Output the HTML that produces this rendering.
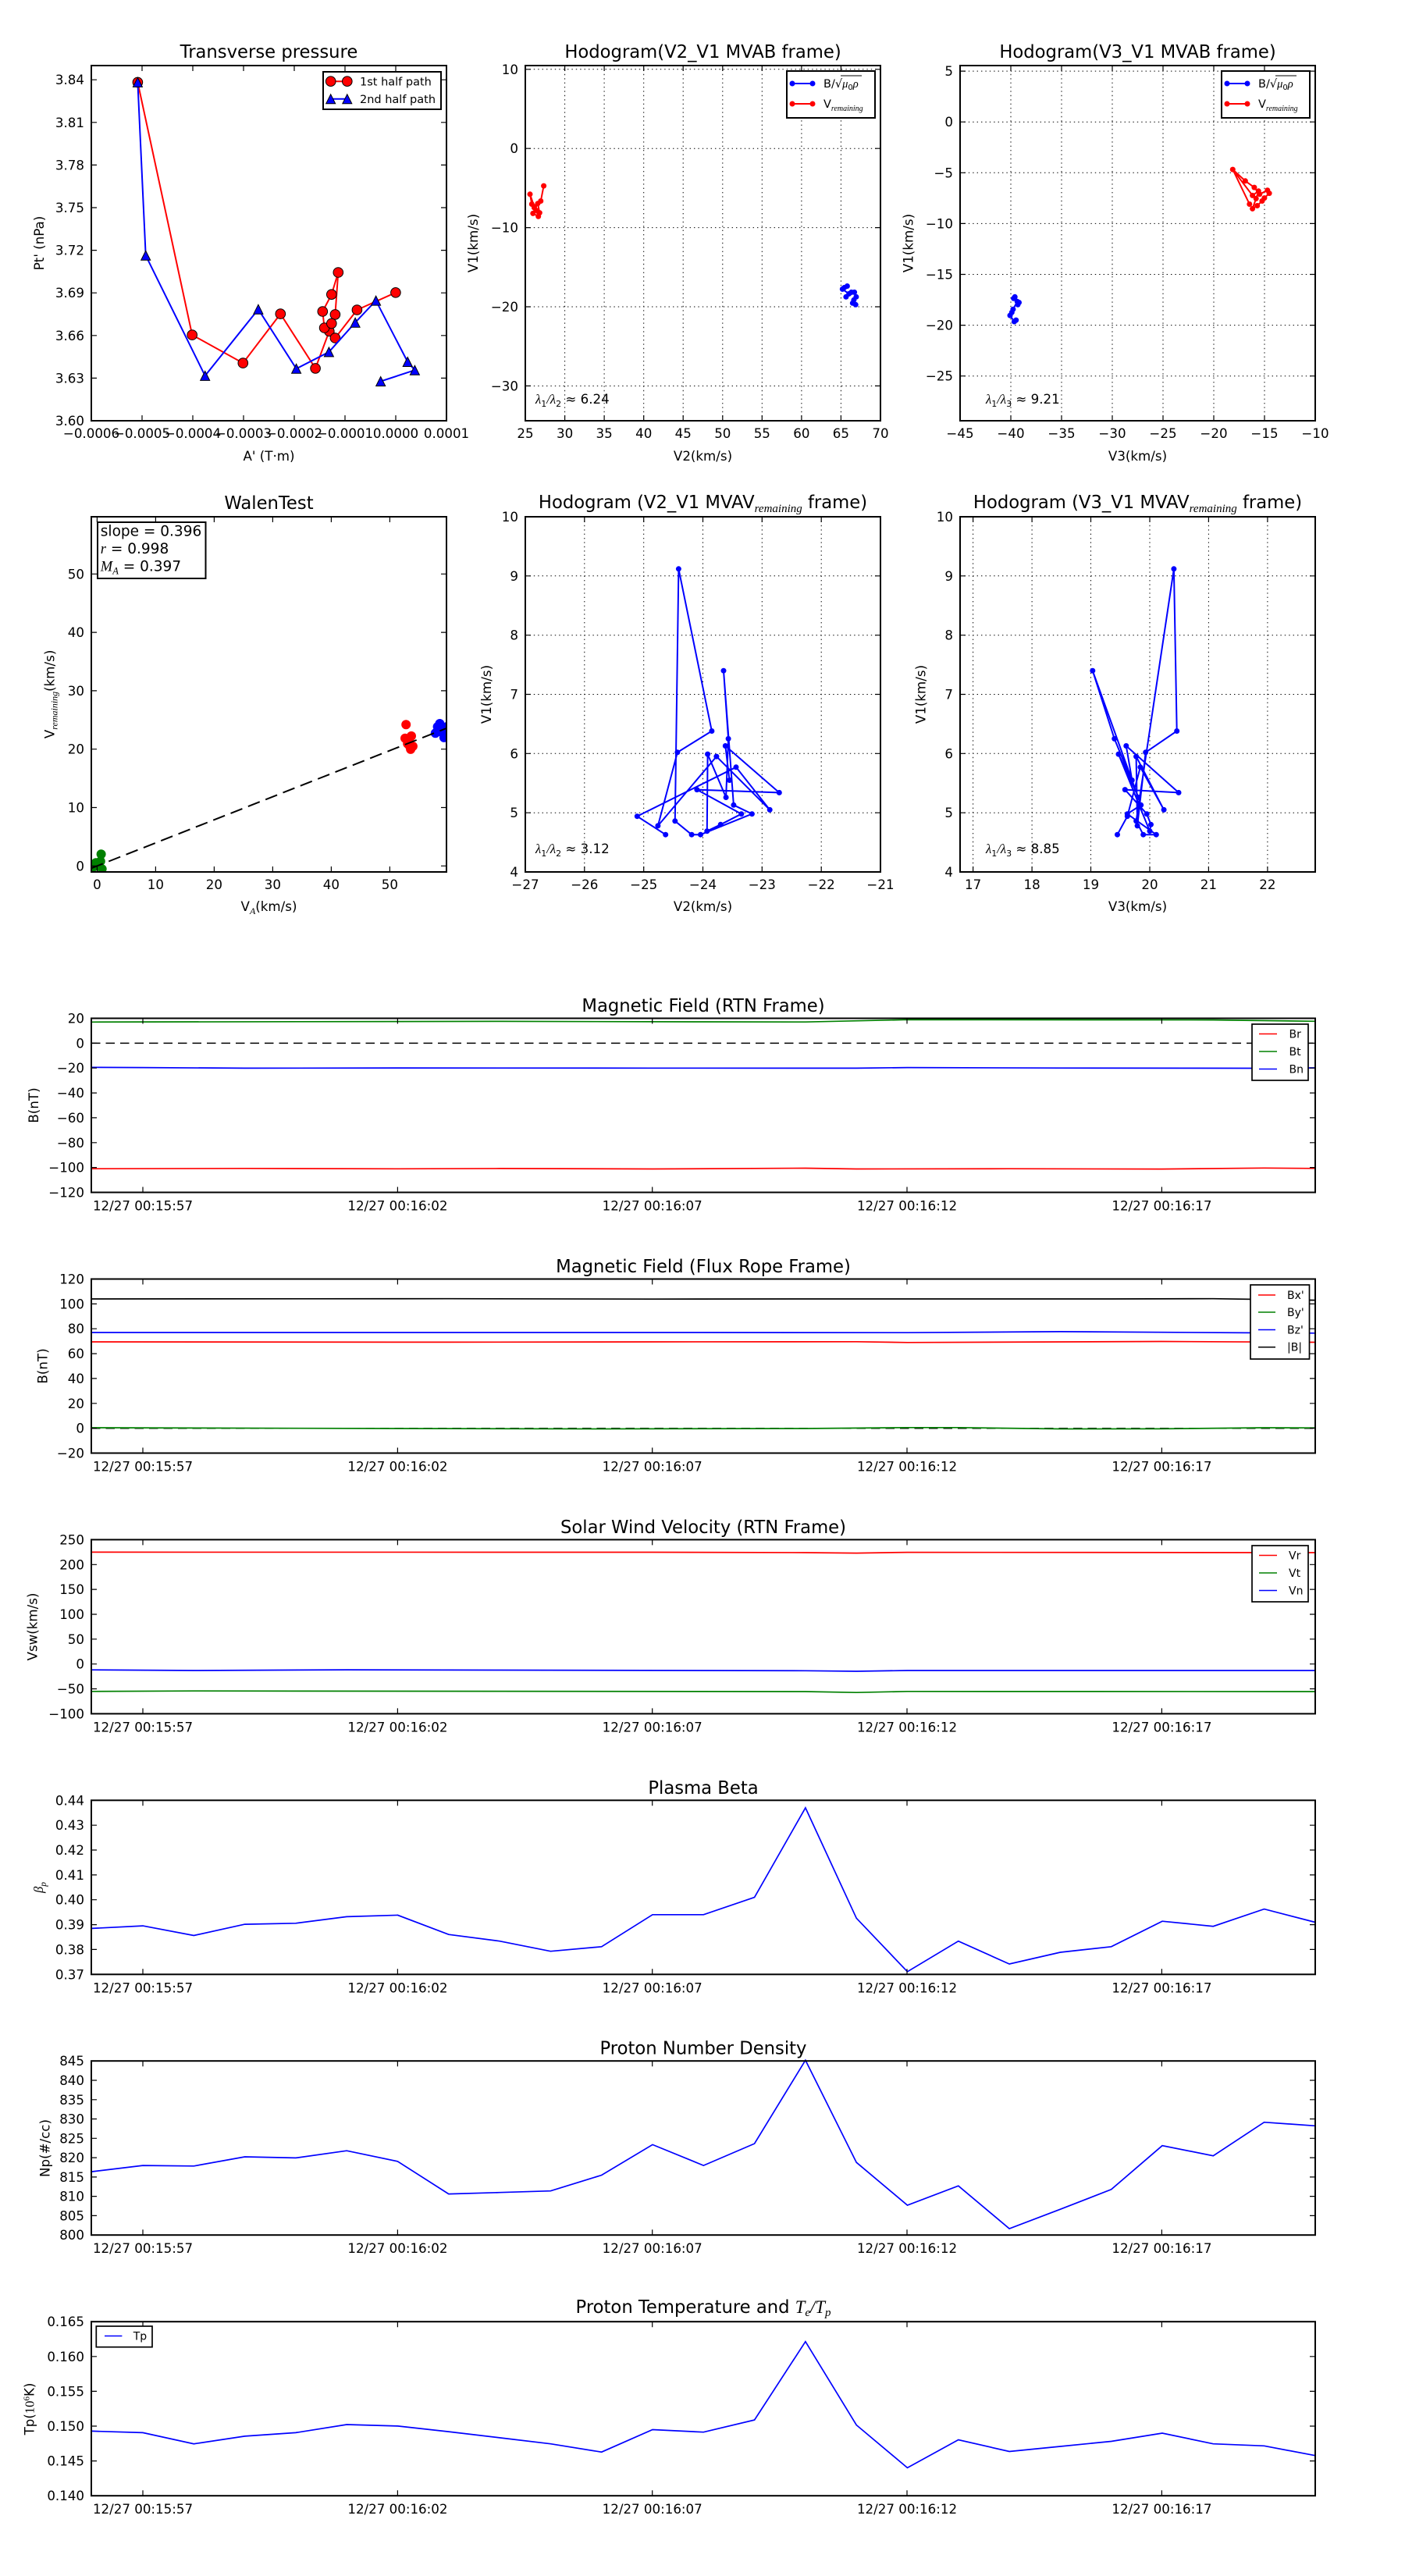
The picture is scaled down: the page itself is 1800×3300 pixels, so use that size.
<!DOCTYPE html>
<html><head><meta charset="utf-8"><style>
html,body{margin:0;padding:0;background:#fff}
svg{display:block}
text{font-family:"DejaVu Sans","Liberation Sans",sans-serif;fill:#000}
.tk{font-size:16.67px}
.ti{font-size:22.7px}
.lg{font-size:14px}
.lg2{font-size:14.5px}
.m{font-family:"Liberation Serif","DejaVu Serif",serif;font-style:italic}
</style></head><body>
<svg width="1800" height="3300" viewBox="0 0 1800 3300" xmlns="http://www.w3.org/2000/svg">
<rect width="1800" height="3300" fill="#fff"/>
<defs>
<clipPath id="cw"><rect x="117" y="662" width="455" height="455"/></clipPath>
</defs>

<!-- ===== Plot 1: Transverse pressure ===== -->
<text x="344.5" y="74" class="ti" text-anchor="middle">Transverse pressure</text>
<polyline fill="none" stroke="#f00" stroke-width="2" points="176.4,105.4 246.2,429.1 311.3,465.1 359.3,402.1 404.1,471.9 421.8,424.3 415.6,420 413.3,399 424.8,377.2 433.3,349 429.4,402.9 424.8,414.4 429.4,433 457.4,397 506.9,374.8"/>
<g fill="#f00" stroke="#000" stroke-width="1">
<circle cx="176.4" cy="105.4" r="6.3"/><circle cx="246.2" cy="429.1" r="6.3"/><circle cx="311.3" cy="465.1" r="6.3"/><circle cx="359.3" cy="402.1" r="6.3"/><circle cx="404.1" cy="471.9" r="6.3"/><circle cx="421.8" cy="424.3" r="6.3"/><circle cx="415.6" cy="420" r="6.3"/><circle cx="413.3" cy="399" r="6.3"/><circle cx="424.8" cy="377.2" r="6.3"/><circle cx="433.3" cy="349" r="6.3"/><circle cx="429.4" cy="402.9" r="6.3"/><circle cx="424.8" cy="414.4" r="6.3"/><circle cx="429.4" cy="433" r="6.3"/><circle cx="457.4" cy="397" r="6.3"/><circle cx="506.9" cy="374.8" r="6.3"/>
</g>
<polyline fill="none" stroke="#00f" stroke-width="2" points="176.4,105.4 186.7,327.3 262.7,481.4 330.9,396.2 379.6,472.3 421.4,450.9 455.1,413.2 481.6,385.1 522.2,463.5 531.4,474.2 487.7,488.5"/>
<g fill="#00f" stroke="#000" stroke-width="1">
<path d="M176.4 99.4l6 12h-12z"/><path d="M186.7 321.3l6 12h-12z"/><path d="M262.7 475.4l6 12h-12z"/><path d="M330.9 390.2l6 12h-12z"/><path d="M379.6 466.3l6 12h-12z"/><path d="M421.4 444.9l6 12h-12z"/><path d="M455.1 407.2l6 12h-12z"/><path d="M481.6 379.1l6 12h-12z"/><path d="M522.2 457.5l6 12h-12z"/><path d="M531.4 468.2l6 12h-12z"/><path d="M487.7 482.5l6 12h-12z"/>
</g>
<rect x="117" y="84" width="455" height="455" fill="none" stroke="#000" stroke-width="2"/>
<path fill="none" stroke="#000" stroke-width="1.2" d="M117 102.2h7M117 156.8h7M117 211.4h7M117 266h7M117 320.6h7M117 375.2h7M117 429.8h7M117 484.4h7M572 102.2h-7M572 156.8h-7M572 211.4h-7M572 266h-7M572 320.6h-7M572 375.2h-7M572 429.8h-7M572 484.4h-7M182 539v-7M247 539v-7M312 539v-7M377 539v-7M442 539v-7M507 539v-7M182 84v7M247 84v7M312 84v7M377 84v7M442 84v7M507 84v7"/>
<g class="tk" text-anchor="end">
<text x="108" y="108.2">3.84</text><text x="108" y="162.8">3.81</text><text x="108" y="217.4">3.78</text><text x="108" y="272">3.75</text><text x="108" y="326.6">3.72</text><text x="108" y="381.2">3.69</text><text x="108" y="435.8">3.66</text><text x="108" y="490.4">3.63</text><text x="108" y="545">3.60</text>
</g>
<g class="tk" text-anchor="middle">
<text x="117" y="561">−0.0006</text><text x="182" y="561">−0.0005</text><text x="247" y="561">−0.0004</text><text x="312" y="561">−0.0003</text><text x="377" y="561">−0.0002</text><text x="442" y="561">−0.0001</text><text x="507" y="561">0.0000</text><text x="572" y="561">0.0001</text>
<text x="344.5" y="590">A' (T·m)</text>
<text transform="translate(56,311.5) rotate(-90)">Pt' (nPa)</text>
</g>
<rect x="414" y="92" width="151" height="48" fill="#fff" stroke="#000" stroke-width="2"/>
<line x1="423.7" y1="104.2" x2="444.8" y2="104.2" stroke="#f00" stroke-width="2"/>
<circle cx="423.7" cy="104.2" r="6.3" fill="#f00" stroke="#000"/><circle cx="444.8" cy="104.2" r="6.3" fill="#f00" stroke="#000"/>
<line x1="423.7" y1="126.8" x2="444.8" y2="126.8" stroke="#00f" stroke-width="2"/>
<path d="M423.7 120.8l6 12h-12zM444.8 120.8l6 12h-12z" fill="#00f" stroke="#000"/>
<text x="461" y="109.5" class="lg2">1st half path</text>
<text x="461" y="132" class="lg2">2nd half path</text>

<!-- ===== Plot 2: Hodogram V2_V1 MVAB ===== -->
<text x="900.5" y="74" class="ti" text-anchor="middle">Hodogram(V2_V1 MVAB frame)</text>
<path fill="none" stroke="#000" stroke-width="1" stroke-dasharray="1.4,4" d="M723.6 84V539M774.1 84V539M824.7 84V539M875.2 84V539M925.8 84V539M976.3 84V539M1026.9 84V539M1077.4 84V539M673 88.8H1128M673 190.2H1128M673 291.6H1128M673 393H1128M673 494.4H1128"/>
<polyline fill="none" stroke="#00f" stroke-width="2" points="1081.6,368.5 1085.4,366.5 1079.3,370.4 1087.7,376.4 1083.9,380.3 1090.8,374.4 1094.6,374.4 1096.9,380.3 1093.9,384.3 1092.3,388.3 1096.2,390.3"/>
<g fill="#00f">
<circle cx="1081.6" cy="368.5" r="3.5"/><circle cx="1085.4" cy="366.5" r="3.5"/><circle cx="1079.3" cy="370.4" r="3.5"/><circle cx="1087.7" cy="376.4" r="3.5"/><circle cx="1083.9" cy="380.3" r="3.5"/><circle cx="1090.8" cy="374.4" r="3.5"/><circle cx="1094.6" cy="374.4" r="3.5"/><circle cx="1096.9" cy="380.3" r="3.5"/><circle cx="1093.9" cy="384.3" r="3.5"/><circle cx="1092.3" cy="388.3" r="3.5"/><circle cx="1096.2" cy="390.3" r="3.5"/>
</g>
<polyline fill="none" stroke="#f00" stroke-width="2" points="696.6,238.1 692.8,257.5 684.4,264.7 679,248.8 681.3,261.5 686.7,269.4 689.7,277.3 682.8,273.4 689,260.7 691.3,272.6 684.4,266"/>
<g fill="#f00">
<circle cx="696.6" cy="238.1" r="3.5"/><circle cx="692.8" cy="257.5" r="3.5"/><circle cx="684.4" cy="264.7" r="3.5"/><circle cx="679" cy="248.8" r="3.5"/><circle cx="681.3" cy="261.5" r="3.5"/><circle cx="686.7" cy="269.4" r="3.5"/><circle cx="689.7" cy="277.3" r="3.5"/><circle cx="682.8" cy="273.4" r="3.5"/><circle cx="689" cy="260.7" r="3.5"/><circle cx="691.3" cy="272.6" r="3.5"/><circle cx="684.4" cy="266" r="3.5"/>
</g>
<rect x="673" y="84" width="455" height="455" fill="none" stroke="#000" stroke-width="2"/>
<path fill="none" stroke="#000" stroke-width="1.2" d="M673 88.8h7M673 190.2h7M673 291.6h7M673 393h7M673 494.4h7M1128 88.8h-7M1128 190.2h-7M1128 291.6h-7M1128 393h-7M1128 494.4h-7M723.6 539v-7M774.1 539v-7M824.7 539v-7M875.2 539v-7M925.8 539v-7M976.3 539v-7M1026.9 539v-7M1077.4 539v-7M723.6 84v7M774.1 84v7M824.7 84v7M875.2 84v7M925.8 84v7M976.3 84v7M1026.9 84v7M1077.4 84v7"/>
<g class="tk" text-anchor="end">
<text x="664" y="94.8">10</text><text x="664" y="196.2">0</text><text x="664" y="297.6">−10</text><text x="664" y="399">−20</text><text x="664" y="500.4">−30</text>
</g>
<g class="tk" text-anchor="middle">
<text x="673" y="561">25</text><text x="723.6" y="561">30</text><text x="774.1" y="561">35</text><text x="824.7" y="561">40</text><text x="875.2" y="561">45</text><text x="925.8" y="561">50</text><text x="976.3" y="561">55</text><text x="1026.9" y="561">60</text><text x="1077.4" y="561">65</text><text x="1128" y="561">70</text>
<text x="900.5" y="590">V2(km/s)</text>
<text transform="translate(612,311.5) rotate(-90)">V1(km/s)</text>
</g>
<text x="686" y="517" class="tk"><tspan class="m">λ</tspan><tspan font-size="11" dy="4">1</tspan><tspan class="m" dy="-4">/λ</tspan><tspan font-size="11" dy="4">2</tspan><tspan dy="-4"> ≈ 6.24</tspan></text>
<rect x="1008" y="91" width="113" height="60" fill="#fff" stroke="#000" stroke-width="2"/>
<line x1="1015" y1="107" x2="1041" y2="107" stroke="#00f" stroke-width="2"/>
<circle cx="1015" cy="107" r="3.5" fill="#00f"/><circle cx="1041" cy="107" r="3.5" fill="#00f"/>
<line x1="1015" y1="133" x2="1041" y2="133" stroke="#f00" stroke-width="2"/>
<circle cx="1015" cy="133" r="3.5" fill="#f00"/><circle cx="1041" cy="133" r="3.5" fill="#f00"/>
<text x="1055" y="112" class="lg2">B/√<tspan class="m">μ</tspan><tspan font-size="10" dy="3">0</tspan><tspan class="m" dy="-3">ρ</tspan></text>
<line x1="1077" y1="97" x2="1104" y2="97" stroke="#000" stroke-width="1"/>
<text x="1055" y="138" class="lg2">V<tspan class="m" font-size="10" dy="4">remaining</tspan></text>

<!-- ===== Plot 3: Hodogram V3_V1 MVAB ===== -->
<text x="1457.5" y="74" class="ti" text-anchor="middle">Hodogram(V3_V1 MVAB frame)</text>
<path fill="none" stroke="#000" stroke-width="1" stroke-dasharray="1.4,4" d="M1295 84V539M1360 84V539M1425 84V539M1490 84V539M1555 84V539M1620 84V539M1230 91.1H1685M1230 156.2H1685M1230 221.3H1685M1230 286.4H1685M1230 351.5H1685M1230 416.6H1685M1230 481.7H1685"/>
<polyline fill="none" stroke="#00f" stroke-width="2" points="1298.6,382.3 1300.2,380.3 1305.5,387.5 1304,390.3 1303.2,386.3 1297.9,396.2 1296.3,400.2 1294,404.1 1299.4,412 1301.7,410.1"/>
<g fill="#00f">
<circle cx="1298.6" cy="382.3" r="3.5"/><circle cx="1300.2" cy="380.3" r="3.5"/><circle cx="1305.5" cy="387.5" r="3.5"/><circle cx="1304" cy="390.3" r="3.5"/><circle cx="1303.2" cy="386.3" r="3.5"/><circle cx="1297.9" cy="396.2" r="3.5"/><circle cx="1296.3" cy="400.2" r="3.5"/><circle cx="1294" cy="404.1" r="3.5"/><circle cx="1299.4" cy="412" r="3.5"/><circle cx="1301.7" cy="410.1" r="3.5"/>
</g>
<polyline fill="none" stroke="#f00" stroke-width="2" points="1600.8,261.5 1579.3,217.1 1595.4,231.8 1606.9,240.1 1613.8,248.8 1623.8,243.7 1626.1,247.6 1619.9,253.6 1616.9,257.5 1610.7,263.5 1604.6,267.4 1609.2,254.4 1612.3,244.8 1604.6,250.4 1579.3,217.1"/>
<g fill="#f00">
<circle cx="1600.8" cy="261.5" r="3.5"/><circle cx="1579.3" cy="217.1" r="3.5"/><circle cx="1595.4" cy="231.8" r="3.5"/><circle cx="1606.9" cy="240.1" r="3.5"/><circle cx="1613.8" cy="248.8" r="3.5"/><circle cx="1623.8" cy="243.7" r="3.5"/><circle cx="1626.1" cy="247.6" r="3.5"/><circle cx="1619.9" cy="253.6" r="3.5"/><circle cx="1616.9" cy="257.5" r="3.5"/><circle cx="1610.7" cy="263.5" r="3.5"/><circle cx="1604.6" cy="267.4" r="3.5"/><circle cx="1609.2" cy="254.4" r="3.5"/><circle cx="1612.3" cy="244.8" r="3.5"/><circle cx="1604.6" cy="250.4" r="3.5"/>
</g>
<rect x="1230" y="84" width="455" height="455" fill="none" stroke="#000" stroke-width="2"/>
<path fill="none" stroke="#000" stroke-width="1.2" d="M1230 91.1h7M1230 156.2h7M1230 221.3h7M1230 286.4h7M1230 351.5h7M1230 416.6h7M1230 481.7h7M1685 91.1h-7M1685 156.2h-7M1685 221.3h-7M1685 286.4h-7M1685 351.5h-7M1685 416.6h-7M1685 481.7h-7M1295 539v-7M1360 539v-7M1425 539v-7M1490 539v-7M1555 539v-7M1620 539v-7M1295 84v7M1360 84v7M1425 84v7M1490 84v7M1555 84v7M1620 84v7"/>
<g class="tk" text-anchor="end">
<text x="1221" y="97.1">5</text><text x="1221" y="162.2">0</text><text x="1221" y="227.3">−5</text><text x="1221" y="292.4">−10</text><text x="1221" y="357.5">−15</text><text x="1221" y="422.6">−20</text><text x="1221" y="487.7">−25</text>
</g>
<g class="tk" text-anchor="middle">
<text x="1230" y="561">−45</text><text x="1295" y="561">−40</text><text x="1360" y="561">−35</text><text x="1425" y="561">−30</text><text x="1490" y="561">−25</text><text x="1555" y="561">−20</text><text x="1620" y="561">−15</text><text x="1685" y="561">−10</text>
<text x="1457.5" y="590">V3(km/s)</text>
<text transform="translate(1169.6,311.5) rotate(-90)">V1(km/s)</text>
</g>
<text x="1263" y="517" class="tk"><tspan class="m">λ</tspan><tspan font-size="11" dy="4">1</tspan><tspan class="m" dy="-4">/λ</tspan><tspan font-size="11" dy="4">3</tspan><tspan dy="-4"> ≈ 9.21</tspan></text>
<rect x="1565" y="91" width="113" height="60" fill="#fff" stroke="#000" stroke-width="2"/>
<line x1="1572" y1="107" x2="1598" y2="107" stroke="#00f" stroke-width="2"/>
<circle cx="1572" cy="107" r="3.5" fill="#00f"/><circle cx="1598" cy="107" r="3.5" fill="#00f"/>
<line x1="1572" y1="133" x2="1598" y2="133" stroke="#f00" stroke-width="2"/>
<circle cx="1572" cy="133" r="3.5" fill="#f00"/><circle cx="1598" cy="133" r="3.5" fill="#f00"/>
<text x="1612" y="112" class="lg2">B/√<tspan class="m">μ</tspan><tspan font-size="10" dy="3">0</tspan><tspan class="m" dy="-3">ρ</tspan></text>
<line x1="1634" y1="97" x2="1661" y2="97" stroke="#000" stroke-width="1"/>
<text x="1612" y="138" class="lg2">V<tspan class="m" font-size="10" dy="4">remaining</tspan></text>

<!-- ===== Plot 4: WalenTest ===== -->
<text x="344.5" y="652" class="ti" text-anchor="middle">WalenTest</text>
<g clip-path="url(#cw)">
<g fill="#008000">
<circle cx="129.6" cy="1094.2" r="6"/><circle cx="122.8" cy="1105.3" r="6"/><circle cx="128.8" cy="1103.4" r="6"/><circle cx="118.9" cy="1111.3" r="6"/><circle cx="130.7" cy="1113.3" r="6"/><circle cx="124.8" cy="1109.3" r="6"/><circle cx="120.8" cy="1108.1" r="6"/>
</g>
<g fill="#f00">
<circle cx="520.2" cy="928.2" r="6"/><circle cx="519" cy="945.7" r="6"/><circle cx="527" cy="942.9" r="6"/><circle cx="523.8" cy="948.8" r="6"/><circle cx="525" cy="956" r="6"/><circle cx="528.9" cy="956" r="6"/><circle cx="522.2" cy="952.8" r="6"/><circle cx="526.1" cy="959.9" r="6"/>
</g>
<g fill="#00f">
<circle cx="557.8" cy="939.3" r="6"/><circle cx="560.6" cy="931" r="6"/><circle cx="563.4" cy="927" r="6"/><circle cx="566.6" cy="933" r="6"/><circle cx="569.7" cy="937" r="6"/><circle cx="562.6" cy="937" r="6"/><circle cx="568.9" cy="944.9" r="6"/><circle cx="572.5" cy="931" r="6"/>
</g>
<line x1="116.9" y1="1112.3" x2="572" y2="932.9" stroke="#000" stroke-width="2" stroke-dasharray="16,8"/>
</g>
<rect x="117" y="662" width="455" height="455" fill="none" stroke="#000" stroke-width="2"/>
<path fill="none" stroke="#000" stroke-width="1.2" d="M117 1109.3h7M117 1034.5h7M117 959.7h7M117 884.9h7M117 810.1h7M117 735.3h7M572 1109.3h-7M572 1034.5h-7M572 959.7h-7M572 884.9h-7M572 810.1h-7M572 735.3h-7M124.4 1117v-7M199.4 1117v-7M274.4 1117v-7M349.4 1117v-7M424.4 1117v-7M499.4 1117v-7M124.4 662v7M199.4 662v7M274.4 662v7M349.4 662v7M424.4 662v7M499.4 662v7"/>
<g class="tk" text-anchor="end">
<text x="108" y="1115.3">0</text><text x="108" y="1040.5">10</text><text x="108" y="965.7">20</text><text x="108" y="890.9">30</text><text x="108" y="816.1">40</text><text x="108" y="741.3">50</text>
</g>
<g class="tk" text-anchor="middle">
<text x="124.4" y="1139">0</text><text x="199.4" y="1139">10</text><text x="274.4" y="1139">20</text><text x="349.4" y="1139">30</text><text x="424.4" y="1139">40</text><text x="499.4" y="1139">50</text>
<text x="344.5" y="1167">V<tspan class="m" font-size="12" dy="4">A</tspan><tspan dy="-4">(km/s)</tspan></text>
<text transform="translate(69.4,889.4) rotate(-90)">V<tspan class="m" font-size="12" dy="4">remaining</tspan><tspan dy="-4">(km/s)</tspan></text>
</g>
<rect x="125" y="669" width="138.5" height="72" fill="#fff" stroke="#000" stroke-width="2"/>
<text x="128.8" y="686.6" font-size="18.5">slope = 0.396</text>
<text x="128.8" y="709" font-size="18.5"><tspan class="m">r</tspan> = 0.998</text>
<text x="128.8" y="731.7" font-size="18.5"><tspan class="m">M</tspan><tspan class="m" font-size="12.5" dy="4">A</tspan><tspan dy="-4"> = 0.397</tspan></text>

<!-- ===== Plot 5: Hodogram V2_V1 MVAV ===== -->
<text x="900.5" y="651" class="ti" text-anchor="middle">Hodogram (V2_V1 MVAV<tspan class="m" font-size="15" dy="5">remaining</tspan><tspan dy="-5"> frame)</tspan></text>
<path fill="none" stroke="#000" stroke-width="1" stroke-dasharray="1.4,4" d="M748.8 662V1117M824.7 662V1117M900.5 662V1117M976.3 662V1117M1052.2 662V1117M673 1041.2H1128M673 965.3H1128M673 889.5H1128M673 813.7H1128M673 737.8H1128"/>
<polyline fill="none" stroke="#00f" stroke-width="2" points="852.7,1069.2 816.3,1045.7 943,982.8 986.2,1037.4 917.9,969.1 842.9,1057.9 867.9,963.8 911.9,936.5 869.4,728.8 864.8,1051.8 886.1,1069.2 897.5,1069.2 963.4,1042.7 939.9,1031.3 927,859.2 933.1,946.4 930.1,1021.5 906.6,966.1 905.8,1064.7 923.2,1056.3 949.8,1042.7 892.9,1011.6 998.3,1015.4 929.3,955.5 934.6,999.5"/>
<g fill="#00f">
<circle cx="852.7" cy="1069.2" r="3.5"/><circle cx="816.3" cy="1045.7" r="3.5"/><circle cx="943" cy="982.8" r="3.5"/><circle cx="986.2" cy="1037.4" r="3.5"/><circle cx="917.9" cy="969.1" r="3.5"/><circle cx="842.9" cy="1057.9" r="3.5"/><circle cx="867.9" cy="963.8" r="3.5"/><circle cx="911.9" cy="936.5" r="3.5"/><circle cx="869.4" cy="728.8" r="3.5"/><circle cx="864.8" cy="1051.8" r="3.5"/><circle cx="886.1" cy="1069.2" r="3.5"/><circle cx="897.5" cy="1069.2" r="3.5"/><circle cx="963.4" cy="1042.7" r="3.5"/><circle cx="939.9" cy="1031.3" r="3.5"/><circle cx="927" cy="859.2" r="3.5"/><circle cx="933.1" cy="946.4" r="3.5"/><circle cx="930.1" cy="1021.5" r="3.5"/><circle cx="906.6" cy="966.1" r="3.5"/><circle cx="905.8" cy="1064.7" r="3.5"/><circle cx="923.2" cy="1056.3" r="3.5"/><circle cx="949.8" cy="1042.7" r="3.5"/><circle cx="892.9" cy="1011.6" r="3.5"/><circle cx="998.3" cy="1015.4" r="3.5"/><circle cx="929.3" cy="955.5" r="3.5"/><circle cx="934.6" cy="999.5" r="3.5"/>
</g>
<rect x="673" y="662" width="455" height="455" fill="none" stroke="#000" stroke-width="2"/>
<path fill="none" stroke="#000" stroke-width="1.2" d="M673 1041.2h7M673 965.3h7M673 889.5h7M673 813.7h7M673 737.8h7M1128 1041.2h-7M1128 965.3h-7M1128 889.5h-7M1128 813.7h-7M1128 737.8h-7M748.8 1117v-7M824.7 1117v-7M900.5 1117v-7M976.3 1117v-7M1052.2 1117v-7M748.8 662v7M824.7 662v7M900.5 662v7M976.3 662v7M1052.2 662v7"/>
<g class="tk" text-anchor="end">
<text x="664" y="1123">4</text><text x="664" y="1047.2">5</text><text x="664" y="971.3">6</text><text x="664" y="895.5">7</text><text x="664" y="819.7">8</text><text x="664" y="743.8">9</text><text x="664" y="668">10</text>
</g>
<g class="tk" text-anchor="middle">
<text x="673" y="1139">−27</text><text x="748.8" y="1139">−26</text><text x="824.7" y="1139">−25</text><text x="900.5" y="1139">−24</text><text x="976.3" y="1139">−23</text><text x="1052.2" y="1139">−22</text><text x="1128" y="1139">−21</text>
<text x="900.5" y="1167">V2(km/s)</text>
<text transform="translate(629,889.5) rotate(-90)">V1(km/s)</text>
</g>
<text x="686" y="1093" class="tk"><tspan class="m">λ</tspan><tspan font-size="11" dy="4">1</tspan><tspan class="m" dy="-4">/λ</tspan><tspan font-size="11" dy="4">2</tspan><tspan dy="-4"> ≈ 3.12</tspan></text>

<!-- ===== Plot 6: Hodogram V3_V1 MVAV ===== -->
<text x="1457.5" y="651" class="ti" text-anchor="middle">Hodogram (V3_V1 MVAV<tspan class="m" font-size="15" dy="5">remaining</tspan><tspan dy="-5"> frame)</tspan></text>
<path fill="none" stroke="#000" stroke-width="1" stroke-dasharray="1.4,4" d="M1246.6 662V1117M1322.1 662V1117M1397.5 662V1117M1473 662V1117M1548.4 662V1117M1623.9 662V1117M1230 1041.2H1685M1230 965.3H1685M1230 889.5H1685M1230 813.7H1685M1230 737.8H1685"/>
<polyline fill="none" stroke="#00f" stroke-width="2" points="1431.5,1069.2 1444.3,1045.7 1460.9,982.8 1491.1,1037.4 1455.6,969.1 1457.1,1057.9 1467.7,963.8 1507.7,936.5 1503.9,728.8 1455.6,1051.8 1464.7,1069.2 1481.3,1069.2 1444.3,1042.7 1461.7,1031.3 1399.8,859.2 1427.7,946.4 1458.6,1021.5 1433,966.1 1473,1064.7 1474.5,1056.3 1469.2,1042.7 1441.3,1011.6 1510,1015.4 1442.8,955.5 1450.3,999.5"/>
<g fill="#00f">
<circle cx="1431.5" cy="1069.2" r="3.5"/><circle cx="1444.3" cy="1045.7" r="3.5"/><circle cx="1460.9" cy="982.8" r="3.5"/><circle cx="1491.1" cy="1037.4" r="3.5"/><circle cx="1455.6" cy="969.1" r="3.5"/><circle cx="1457.1" cy="1057.9" r="3.5"/><circle cx="1467.7" cy="963.8" r="3.5"/><circle cx="1507.7" cy="936.5" r="3.5"/><circle cx="1503.9" cy="728.8" r="3.5"/><circle cx="1455.6" cy="1051.8" r="3.5"/><circle cx="1464.7" cy="1069.2" r="3.5"/><circle cx="1481.3" cy="1069.2" r="3.5"/><circle cx="1444.3" cy="1042.7" r="3.5"/><circle cx="1461.7" cy="1031.3" r="3.5"/><circle cx="1399.8" cy="859.2" r="3.5"/><circle cx="1427.7" cy="946.4" r="3.5"/><circle cx="1458.6" cy="1021.5" r="3.5"/><circle cx="1433" cy="966.1" r="3.5"/><circle cx="1473" cy="1064.7" r="3.5"/><circle cx="1474.5" cy="1056.3" r="3.5"/><circle cx="1469.2" cy="1042.7" r="3.5"/><circle cx="1441.3" cy="1011.6" r="3.5"/><circle cx="1510" cy="1015.4" r="3.5"/><circle cx="1442.8" cy="955.5" r="3.5"/><circle cx="1450.3" cy="999.5" r="3.5"/>
</g>
<rect x="1230" y="662" width="455" height="455" fill="none" stroke="#000" stroke-width="2"/>
<path fill="none" stroke="#000" stroke-width="1.2" d="M1230 1041.2h7M1230 965.3h7M1230 889.5h7M1230 813.7h7M1230 737.8h7M1685 1041.2h-7M1685 965.3h-7M1685 889.5h-7M1685 813.7h-7M1685 737.8h-7M1246.6 1117v-7M1322.1 1117v-7M1397.5 1117v-7M1473 1117v-7M1548.4 1117v-7M1623.9 1117v-7M1246.6 662v7M1322.1 662v7M1397.5 662v7M1473 662v7M1548.4 662v7M1623.9 662v7"/>
<g class="tk" text-anchor="end">
<text x="1221" y="1123">4</text><text x="1221" y="1047.2">5</text><text x="1221" y="971.3">6</text><text x="1221" y="895.5">7</text><text x="1221" y="819.7">8</text><text x="1221" y="743.8">9</text><text x="1221" y="668">10</text>
</g>
<g class="tk" text-anchor="middle">
<text x="1246.6" y="1139">17</text><text x="1322.1" y="1139">18</text><text x="1397.5" y="1139">19</text><text x="1473" y="1139">20</text><text x="1548.4" y="1139">21</text><text x="1623.9" y="1139">22</text>
<text x="1457.5" y="1167">V3(km/s)</text>
<text transform="translate(1185.6,889.5) rotate(-90)">V1(km/s)</text>
</g>
<text x="1263" y="1093" class="tk"><tspan class="m">λ</tspan><tspan font-size="11" dy="4">1</tspan><tspan class="m" dy="-4">/λ</tspan><tspan font-size="11" dy="4">3</tspan><tspan dy="-4"> ≈ 8.85</tspan></text>

<!-- ===== Panel 1: Magnetic Field RTN ===== -->
<text x="901" y="1296" class="ti" text-anchor="middle">Magnetic Field (RTN Frame)</text>
<line x1="117" y1="1336.4" x2="1685" y2="1336.4" stroke="#000" stroke-width="1.5" stroke-dasharray="11.5,7"/>
<polyline fill="none" stroke="#008000" stroke-width="1.7" points="117.7,1309.3 378.9,1308.8 640.1,1308.4 901.3,1309 1031.9,1309.2 1162.5,1306.3 1423.7,1306.5 1554.3,1306.6 1684.9,1308.3"/>
<polyline fill="none" stroke="#00f" stroke-width="1.7" points="117.7,1367.3 183,1367.6 313.6,1368.4 509.5,1368.1 836,1368.3 1031.9,1368.4 1097.2,1368.4 1162.5,1367.6 1358.4,1368.2 1619.6,1368.5 1684.9,1368"/>
<polyline fill="none" stroke="#f00" stroke-width="1.7" points="117.7,1497.2 313.6,1496.8 509.5,1497.3 640.1,1496.9 836,1497.5 1031.9,1496.5 1097.2,1497.5 1292,1497.2 1488,1497.6 1619.6,1496.3 1684.9,1496.8"/>
<rect x="117" y="1304.5" width="1568" height="223" fill="none" stroke="#000" stroke-width="2"/>
<path fill="none" stroke="#000" stroke-width="1.2" d="M117 1336.4h7M117 1368.2h7M117 1400.1h7M117 1431.9h7M117 1463.8h7M117 1495.6h7M1685 1336.4h-7M1685 1368.2h-7M1685 1400.1h-7M1685 1431.9h-7M1685 1463.8h-7M1685 1495.6h-7M183 1527.5v-7M509.4 1527.5v-7M835.7 1527.5v-7M1162 1527.5v-7M1488.4 1527.5v-7M183 1304.5v7M509.4 1304.5v7M835.7 1304.5v7M1162 1304.5v7M1488.4 1304.5v7"/>
<g class="tk" text-anchor="end">
<text x="108" y="1310.5">20</text><text x="108" y="1342.4">0</text><text x="108" y="1374.2">−20</text><text x="108" y="1406.1">−40</text><text x="108" y="1437.9">−60</text><text x="108" y="1469.8">−80</text><text x="108" y="1501.6">−100</text><text x="108" y="1533.5">−120</text>
</g>
<g class="tk" text-anchor="middle">
<text x="183" y="1550.5">12/27 00:15:57</text><text x="509.4" y="1550.5">12/27 00:16:02</text><text x="835.7" y="1550.5">12/27 00:16:07</text><text x="1162" y="1550.5">12/27 00:16:12</text><text x="1488.4" y="1550.5">12/27 00:16:17</text>
<text transform="translate(49,1416) rotate(-90)">B(nT)</text>
</g>
<rect x="1604" y="1312" width="72" height="72" fill="#fff" stroke="#000" stroke-width="1.7"/>
<line x1="1613" y1="1324.5" x2="1636" y2="1324.5" stroke="#f00" stroke-width="1.5"/>
<line x1="1613" y1="1347" x2="1636" y2="1347" stroke="#008000" stroke-width="1.5"/>
<line x1="1613" y1="1369.5" x2="1636" y2="1369.5" stroke="#00f" stroke-width="1.5"/>
<g class="lg"><text x="1651.5" y="1329.5">Br</text><text x="1651.5" y="1352">Bt</text><text x="1651.5" y="1374.5">Bn</text></g>

<!-- ===== Panel 2: Magnetic Field Flux Rope ===== -->
<text x="901" y="1630" class="ti" text-anchor="middle">Magnetic Field (Flux Rope Frame)</text>
<line x1="117" y1="1829.7" x2="1685" y2="1829.7" stroke="#000" stroke-width="1.5" stroke-dasharray="11.5,7"/>
<polyline fill="none" stroke="#f00" stroke-width="1.7" points="117.7,1719 574.8,1719.4 836,1719 1097.2,1718.8 1162.5,1719.8 1488,1718.5 1684.9,1719.5"/>
<polyline fill="none" stroke="#008000" stroke-width="1.7" points="117.7,1829 509.5,1830 770.7,1830.5 1031.9,1830 1162.5,1828.8 1227.8,1828.8 1358.4,1830.5 1488,1830.4 1619.6,1829 1684.9,1829.2"/>
<polyline fill="none" stroke="#00f" stroke-width="1.7" points="117.7,1707 901.3,1707 1162.5,1707.2 1358.4,1705.9 1619.6,1707.5 1684.9,1707.8"/>
<polyline fill="none" stroke="#000" stroke-width="1.7" points="117.7,1664 574.8,1663.7 836,1664.2 1031.9,1664 1162.5,1664 1423.7,1664 1554.3,1663.7 1684.9,1665.6"/>
<rect x="117" y="1638.5" width="1568" height="223" fill="none" stroke="#000" stroke-width="2"/>
<path fill="none" stroke="#000" stroke-width="1.2" d="M117 1670.4h7M117 1702.2h7M117 1734.1h7M117 1765.9h7M117 1797.8h7M117 1829.6h7M1685 1670.4h-7M1685 1702.2h-7M1685 1734.1h-7M1685 1765.9h-7M1685 1797.8h-7M1685 1829.6h-7M183 1861.5v-7M509.4 1861.5v-7M835.7 1861.5v-7M1162 1861.5v-7M1488.4 1861.5v-7M183 1638.5v7M509.4 1638.5v7M835.7 1638.5v7M1162 1638.5v7M1488.4 1638.5v7"/>
<g class="tk" text-anchor="end">
<text x="108" y="1644.5">120</text><text x="108" y="1676.4">100</text><text x="108" y="1708.2">80</text><text x="108" y="1740.1">60</text><text x="108" y="1771.9">40</text><text x="108" y="1803.8">20</text><text x="108" y="1835.6">0</text><text x="108" y="1867.5">−20</text>
</g>
<g class="tk" text-anchor="middle">
<text x="183" y="1884.5">12/27 00:15:57</text><text x="509.4" y="1884.5">12/27 00:16:02</text><text x="835.7" y="1884.5">12/27 00:16:07</text><text x="1162" y="1884.5">12/27 00:16:12</text><text x="1488.4" y="1884.5">12/27 00:16:17</text>
<text transform="translate(60.6,1750) rotate(-90)">B(nT)</text>
</g>
<rect x="1602" y="1646" width="75.5" height="95" fill="#fff" stroke="#000" stroke-width="1.7"/>
<line x1="1612" y1="1659" x2="1634" y2="1659" stroke="#f00" stroke-width="1.5"/>
<line x1="1612" y1="1681" x2="1634" y2="1681" stroke="#008000" stroke-width="1.5"/>
<line x1="1612" y1="1703.5" x2="1634" y2="1703.5" stroke="#00f" stroke-width="1.5"/>
<line x1="1612" y1="1725.7" x2="1634" y2="1725.7" stroke="#000" stroke-width="1.5"/>
<g class="lg"><text x="1649" y="1664">Bx'</text><text x="1649" y="1686">By'</text><text x="1649" y="1708.5">Bz'</text><text x="1649" y="1730.7">|B|</text></g>

<!-- ===== Panel 3: Solar Wind Velocity ===== -->
<text x="901" y="1964" class="ti" text-anchor="middle">Solar Wind Velocity (RTN Frame)</text>
<polyline fill="none" stroke="#f00" stroke-width="1.7" points="117.7,1988.4 836,1988.5 1031.9,1989 1097.2,1989.6 1162.5,1988.6 1684.9,1989"/>
<polyline fill="none" stroke="#008000" stroke-width="1.7" points="117.7,2166.8 248.3,2166.2 509.5,2166.5 1031.9,2167 1097.2,2168.2 1162.5,2166.8 1684.9,2167"/>
<polyline fill="none" stroke="#00f" stroke-width="1.7" points="117.7,2139.2 248.3,2140 444.2,2139.1 640.1,2139.5 1031.9,2140.3 1097.2,2141 1162.5,2140 1684.9,2140"/>
<rect x="117" y="1972.4" width="1568" height="223" fill="none" stroke="#000" stroke-width="2"/>
<path fill="none" stroke="#000" stroke-width="1.2" d="M117 2004.3h7M117 2036.1h7M117 2068h7M117 2099.8h7M117 2131.7h7M117 2163.5h7M1685 2004.3h-7M1685 2036.1h-7M1685 2068h-7M1685 2099.8h-7M1685 2131.7h-7M1685 2163.5h-7M183 2195.4v-7M509.4 2195.4v-7M835.7 2195.4v-7M1162 2195.4v-7M1488.4 2195.4v-7M183 1972.4v7M509.4 1972.4v7M835.7 1972.4v7M1162 1972.4v7M1488.4 1972.4v7"/>
<g class="tk" text-anchor="end">
<text x="108" y="1978.4">250</text><text x="108" y="2010.3">200</text><text x="108" y="2042.1">150</text><text x="108" y="2074">100</text><text x="108" y="2105.8">50</text><text x="108" y="2137.7">0</text><text x="108" y="2169.5">−50</text><text x="108" y="2201.4">−100</text>
</g>
<g class="tk" text-anchor="middle">
<text x="183" y="2218.4">12/27 00:15:57</text><text x="509.4" y="2218.4">12/27 00:16:02</text><text x="835.7" y="2218.4">12/27 00:16:07</text><text x="1162" y="2218.4">12/27 00:16:12</text><text x="1488.4" y="2218.4">12/27 00:16:17</text>
<text transform="translate(47.4,2084) rotate(-90)">Vsw(km/s)</text>
</g>
<rect x="1604" y="1980" width="72" height="72" fill="#fff" stroke="#000" stroke-width="1.7"/>
<line x1="1613" y1="1992.5" x2="1636" y2="1992.5" stroke="#f00" stroke-width="1.5"/>
<line x1="1613" y1="2015" x2="1636" y2="2015" stroke="#008000" stroke-width="1.5"/>
<line x1="1613" y1="2037.5" x2="1636" y2="2037.5" stroke="#00f" stroke-width="1.5"/>
<g class="lg"><text x="1651" y="1997.5">Vr</text><text x="1651" y="2020">Vt</text><text x="1651" y="2042.5">Vn</text></g>

<!-- ===== Panel 4: Plasma Beta ===== -->
<text x="901" y="2298" class="ti" text-anchor="middle">Plasma Beta</text>
<polyline fill="none" stroke="#00f" stroke-width="1.7" points="117.7,2470.4 183,2467.1 248.3,2479.5 313.6,2465.1 378.9,2463.8 444.2,2455.4 509.5,2453.4 574.8,2478.2 640.1,2486.7 705.4,2499.7 770.7,2493.8 836,2452.8 901.3,2452.8 966.6,2430.6 1031.9,2315.9 1097.2,2457.3 1162.5,2525.8 1227.8,2486.7 1293.1,2516 1358.4,2501 1423.7,2493.8 1489,2461.2 1554.3,2467.7 1619.6,2445.6 1684.9,2462.5"/>
<rect x="117" y="2306.3" width="1568" height="223" fill="none" stroke="#000" stroke-width="2"/>
<path fill="none" stroke="#000" stroke-width="1.2" d="M117 2338.2h7M117 2370h7M117 2401.9h7M117 2433.7h7M117 2465.6h7M117 2497.4h7M1685 2338.2h-7M1685 2370h-7M1685 2401.9h-7M1685 2433.7h-7M1685 2465.6h-7M1685 2497.4h-7M183 2529.3v-7M509.4 2529.3v-7M835.7 2529.3v-7M1162 2529.3v-7M1488.4 2529.3v-7M183 2306.3v7M509.4 2306.3v7M835.7 2306.3v7M1162 2306.3v7M1488.4 2306.3v7"/>
<g class="tk" text-anchor="end">
<text x="108" y="2312.3">0.44</text><text x="108" y="2344.2">0.43</text><text x="108" y="2376">0.42</text><text x="108" y="2407.9">0.41</text><text x="108" y="2439.7">0.40</text><text x="108" y="2471.6">0.39</text><text x="108" y="2503.4">0.38</text><text x="108" y="2535.3">0.37</text>
</g>
<g class="tk" text-anchor="middle">
<text x="183" y="2552.3">12/27 00:15:57</text><text x="509.4" y="2552.3">12/27 00:16:02</text><text x="835.7" y="2552.3">12/27 00:16:07</text><text x="1162" y="2552.3">12/27 00:16:12</text><text x="1488.4" y="2552.3">12/27 00:16:17</text>
</g>
<text transform="translate(55,2418) rotate(-90)" text-anchor="middle" class="m" font-size="16.67">β<tspan font-size="11.5" dy="4">p</tspan></text>

<!-- ===== Panel 5: Proton Number Density ===== -->
<text x="901" y="2631.7" class="ti" text-anchor="middle">Proton Number Density</text>
<polyline fill="none" stroke="#00f" stroke-width="1.7" points="117.7,2782 183,2774.1 248.3,2774.8 313.6,2763 378.9,2764.4 444.2,2755.2 509.5,2768.9 574.8,2810.6 640.1,2808.7 705.4,2806.7 770.7,2786.5 836,2747.4 901.3,2774.1 966.6,2746.1 1031.9,2639.2 1097.2,2770.2 1162.5,2825 1227.8,2800.2 1293.1,2855 1358.4,2830.2 1423.7,2804.8 1489,2748.7 1554.3,2761.7 1619.6,2718.7 1684.9,2723.3"/>
<rect x="117" y="2640.2" width="1568" height="223" fill="none" stroke="#000" stroke-width="2"/>
<path fill="none" stroke="#000" stroke-width="1.2" d="M117 2665h7M117 2689.8h7M117 2714.5h7M117 2739.3h7M117 2764.1h7M117 2788.9h7M117 2813.6h7M117 2838.4h7M1685 2665h-7M1685 2689.8h-7M1685 2714.5h-7M1685 2739.3h-7M1685 2764.1h-7M1685 2788.9h-7M1685 2813.6h-7M1685 2838.4h-7M183 2863.2v-7M509.4 2863.2v-7M835.7 2863.2v-7M1162 2863.2v-7M1488.4 2863.2v-7M183 2640.2v7M509.4 2640.2v7M835.7 2640.2v7M1162 2640.2v7M1488.4 2640.2v7"/>
<g class="tk" text-anchor="end">
<text x="108" y="2646.2">845</text><text x="108" y="2671">840</text><text x="108" y="2695.8">835</text><text x="108" y="2720.5">830</text><text x="108" y="2745.3">825</text><text x="108" y="2770.1">820</text><text x="108" y="2794.9">815</text><text x="108" y="2819.6">810</text><text x="108" y="2844.4">805</text><text x="108" y="2869.2">800</text>
</g>
<g class="tk" text-anchor="middle">
<text x="183" y="2886.2">12/27 00:15:57</text><text x="509.4" y="2886.2">12/27 00:16:02</text><text x="835.7" y="2886.2">12/27 00:16:07</text><text x="1162" y="2886.2">12/27 00:16:12</text><text x="1488.4" y="2886.2">12/27 00:16:17</text>
<text transform="translate(63.5,2752) rotate(-90)">Np(#/cc)</text>
</g>

<!-- ===== Panel 6: Proton Temperature ===== -->
<text x="901" y="2963" class="ti" text-anchor="middle">Proton Temperature and <tspan class="m">T</tspan><tspan class="m" font-size="15" dy="4">e</tspan><tspan class="m" dy="-4">/T</tspan><tspan class="m" font-size="15" dy="4">p</tspan></text>
<polyline fill="none" stroke="#00f" stroke-width="1.7" points="117.7,3114.4 183,3116.4 248.3,3130.7 313.6,3120.9 378.9,3116.4 444.2,3106 509.5,3107.9 574.8,3115.1 640.1,3122.9 705.4,3130.7 770.7,3141.2 836,3112.5 901.3,3115.7 966.6,3100.1 1031.9,2999.7 1097.2,3106.6 1162.5,3161.4 1227.8,3125.5 1293.1,3140.5 1358.4,3134 1423.7,3127.5 1489,3117 1554.3,3130.7 1619.6,3133.3 1684.9,3145.7"/>
<rect x="117" y="2974.2" width="1568" height="223" fill="none" stroke="#000" stroke-width="2"/>
<path fill="none" stroke="#000" stroke-width="1.2" d="M117 3018.8h7M117 3063.4h7M117 3108h7M117 3152.6h7M1685 3018.8h-7M1685 3063.4h-7M1685 3108h-7M1685 3152.6h-7M183 3197.2v-7M509.4 3197.2v-7M835.7 3197.2v-7M1162 3197.2v-7M1488.4 3197.2v-7M183 2974.2v7M509.4 2974.2v7M835.7 2974.2v7M1162 2974.2v7M1488.4 2974.2v7"/>
<g class="tk" text-anchor="end">
<text x="108" y="2980.2">0.165</text><text x="108" y="3024.8">0.160</text><text x="108" y="3069.4">0.155</text><text x="108" y="3114">0.150</text><text x="108" y="3158.6">0.145</text><text x="108" y="3203.2">0.140</text>
</g>
<g class="tk" text-anchor="middle">
<text x="183" y="3220.2">12/27 00:15:57</text><text x="509.4" y="3220.2">12/27 00:16:02</text><text x="835.7" y="3220.2">12/27 00:16:07</text><text x="1162" y="3220.2">12/27 00:16:12</text><text x="1488.4" y="3220.2">12/27 00:16:17</text>
<text transform="translate(43.4,3086) rotate(-90)">Tp(<tspan font-family="Liberation Serif">10</tspan><tspan font-family="Liberation Serif" font-size="11" dy="-6">6</tspan><tspan dy="6">K)</tspan></text>
</g>
<rect x="123.3" y="2980" width="71.7" height="26.7" fill="#fff" stroke="#000" stroke-width="1.7"/>
<line x1="134" y1="2992.5" x2="156.4" y2="2992.5" stroke="#00f" stroke-width="1.5"/>
<text x="170.7" y="2997.5" class="lg">Tp</text>
</svg>
</body></html>
